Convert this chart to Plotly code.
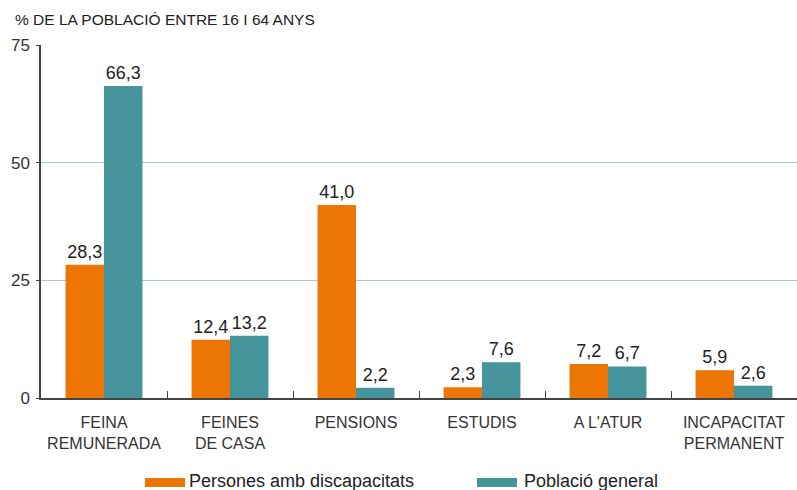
import plotly.graph_objects as go

# categories (two-line labels) and the two series
categories = [
    "FEINA<br>REMUNERADA",
    "FEINES<br>DE CASA",
    "PENSIONS",
    "ESTUDIS",
    "A L'ATUR",
    "INCAPACITAT<br>PERMANENT",
]
disability = [28.3, 12.4, 41.0, 2.3, 7.2, 5.9]
general = [66.3, 13.2, 2.2, 7.6, 6.7, 2.6]
series_names = ["Persones amb discapacitats", "Població general"]
y_ticks = [0, 25, 50, 75]

ORANGE = "#EC7504"
TEAL = "#46949C"
FONT = "Liberation Sans, Arial, sans-serif"

# plot area in pixels (used to place the hand-made legend and title)
L, T, W, H = 41, 45, 756, 353


def fmt(v):
    return f"{v:.1f}".replace(".", ",")


def px_x(x):
    return (x - L) / W


def px_y(y):
    return (T + H - y) / H


fig = go.Figure()
colors = [ORANGE, TEAL]
for name, vals, color in zip(series_names, [disability, general], colors):
    fig.add_trace(
        go.Bar(
            x=categories,
            y=vals,
            name=name,
            marker=dict(color=color, line=dict(width=0)),
            text=[fmt(v) for v in vals],
            textposition="outside",
            textfont=dict(size=18, color="#222222", family=FONT),
            cliponaxis=False,
            showlegend=False,
        )
    )

# legend drawn by hand: wide flat swatches like the original
shapes = []
annotations = []
legend_pos = [(145, 187), (477, 522)]
for (sx, tx), name, color in zip(legend_pos, series_names, colors):
    shapes.append(
        dict(
            type="rect",
            xref="paper",
            yref="paper",
            x0=px_x(sx),
            x1=px_x(sx + 40),
            y0=px_y(487),
            y1=px_y(478),
            fillcolor=color,
            line=dict(width=0),
        )
    )
    annotations.append(
        dict(
            text=name,
            xref="paper",
            yref="paper",
            x=px_x(tx),
            y=px_y(481),
            xanchor="left",
            yanchor="middle",
            showarrow=False,
            font=dict(size=18, color="#222222", family=FONT),
        )
    )

annotations.append(
    dict(
        text="% DE LA POBLACIÓ ENTRE 16 I 64 ANYS",
        xref="paper",
        yref="paper",
        x=px_x(13),
        y=px_y(20),
        xanchor="left",
        yanchor="middle",
        showarrow=False,
        font=dict(size=15.5, color="#222222", family=FONT),
    )
)

fig.update_layout(
    width=797,
    height=490,
    margin=dict(l=L, r=797 - L - W, t=T, b=490 - T - H, autoexpand=False),
    paper_bgcolor="white",
    plot_bgcolor="white",
    barmode="group",
    bargap=0.39,
    bargroupgap=0,
    font=dict(family=FONT, color="#333333"),
    showlegend=False,
    shapes=shapes,
    annotations=annotations,
)

fig.update_xaxes(
    automargin=False,
    showline=True,
    linecolor="#444444",
    linewidth=1.5,
    ticks="inside",
    tickson="boundaries",
    ticklen=7,
    tickcolor="#444444",
    tickfont=dict(size=16, color="#333333"),
    ticklabelstandoff=9,
    showgrid=False,
)
fig.update_yaxes(
    automargin=False,
    range=[0, 75],
    tickvals=y_ticks,
    showline=True,
    linecolor="#444444",
    linewidth=1.5,
    ticks="outside",
    ticklen=3,
    tickcolor="#444444",
    tickfont=dict(size=17, color="#333333"),
    ticklabelstandoff=3,
    showgrid=True,
    gridcolor="#A6C6E6",
    gridwidth=1.2,
    zeroline=False,
)

# drop the page's default body margin so the 797x490 figure fills the window
fig.write_html(
    "out.html",
    config={"displayModeBar": False},
    post_script="document.body.style.margin='0';document.body.style.overflow='hidden';",
)
